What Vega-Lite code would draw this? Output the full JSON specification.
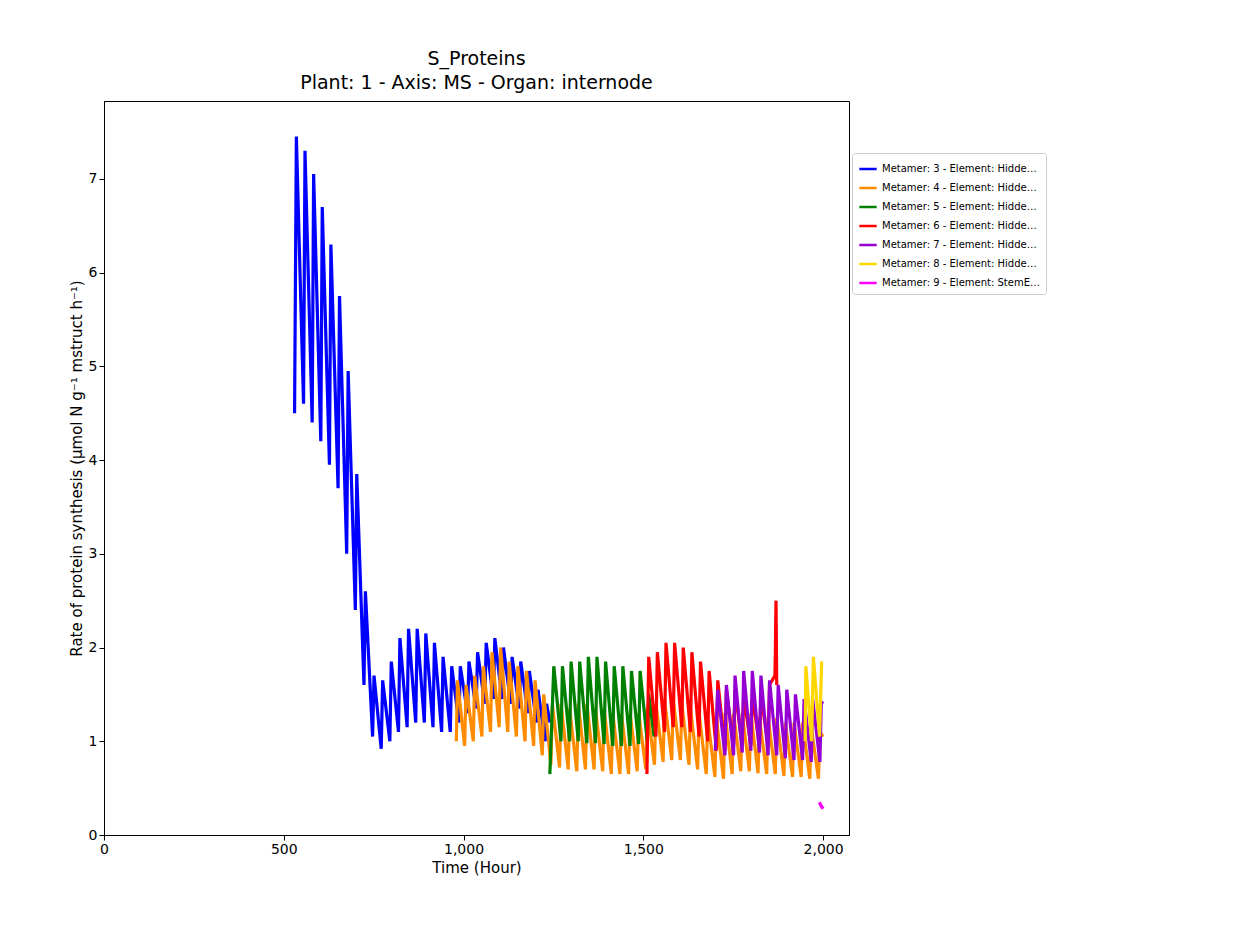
{
  "$schema": "https://vega.github.io/schema/vega-lite/v6.json",
  "width": 745,
  "height": 734,
  "autosize": "none",
  "padding": {"left": 104, "top": 101, "right": 401, "bottom": 108},
  "background": "white",
  "config": {"font": "DejaVu Sans", "view": {"stroke": "black", "strokeWidth": 1}, "axis": {"labelFontSize": 14, "titleFontSize": 15, "titleFontWeight": "normal"}},
  "title": {"text": ["S_Proteins", "Plant: 1 - Axis: MS - Organ: internode"], "fontSize": 19, "fontWeight": "normal", "color": "black", "offset": 8, "lineHeight": 24},
  "data": {"values": [
    {"s":3,"t":530,"v":4.5},{"s":3,"t":535,"v":7.45},{"s":3,"t":555,"v":4.6},{"s":3,"t":559,"v":7.3},{"s":3,"t":579,"v":4.4},{"s":3,"t":583,"v":7.05},{"s":3,"t":603,"v":4.2},{"s":3,"t":607,"v":6.7},{"s":3,"t":627,"v":3.95},{"s":3,"t":631,"v":6.3},{"s":3,"t":651,"v":3.7},{"s":3,"t":655,"v":5.75},{"s":3,"t":675,"v":3.0},{"s":3,"t":679,"v":4.95},{"s":3,"t":699,"v":2.4},{"s":3,"t":703,"v":3.85},{"s":3,"t":723,"v":1.6},{"s":3,"t":727,"v":2.6},{"s":3,"t":747,"v":1.05},{"s":3,"t":751,"v":1.7},{"s":3,"t":771,"v":0.92},{"s":3,"t":775,"v":1.65},{"s":3,"t":795,"v":1.0},{"s":3,"t":799,"v":1.85},{"s":3,"t":819,"v":1.1},{"s":3,"t":823,"v":2.1},{"s":3,"t":843,"v":1.15},{"s":3,"t":847,"v":2.2},{"s":3,"t":867,"v":1.2},{"s":3,"t":871,"v":2.2},{"s":3,"t":891,"v":1.2},{"s":3,"t":895,"v":2.15},{"s":3,"t":915,"v":1.15},{"s":3,"t":919,"v":2.05},{"s":3,"t":939,"v":1.1},{"s":3,"t":943,"v":1.9},{"s":3,"t":963,"v":1.1},{"s":3,"t":967,"v":1.8},{"s":3,"t":987,"v":1.2},{"s":3,"t":991,"v":1.8},{"s":3,"t":1011,"v":1.3},{"s":3,"t":1015,"v":1.85},{"s":3,"t":1035,"v":1.35},{"s":3,"t":1039,"v":1.95},{"s":3,"t":1059,"v":1.4},{"s":3,"t":1063,"v":2.05},{"s":3,"t":1083,"v":1.45},{"s":3,"t":1087,"v":2.1},{"s":3,"t":1107,"v":1.45},{"s":3,"t":1111,"v":2.0},{"s":3,"t":1131,"v":1.4},{"s":3,"t":1135,"v":1.9},{"s":3,"t":1155,"v":1.35},{"s":3,"t":1159,"v":1.85},{"s":3,"t":1179,"v":1.3},{"s":3,"t":1183,"v":1.75},{"s":3,"t":1203,"v":1.2},{"s":3,"t":1207,"v":1.55},{"s":3,"t":1227,"v":1.0},{"s":3,"t":1231,"v":1.4},{"s":3,"t":1240,"v":1.2},
    {"s":4,"t":980,"v":1.0},{"s":4,"t":983,"v":1.65},{"s":4,"t":1003,"v":0.95},{"s":4,"t":1007,"v":1.6},{"s":4,"t":1027,"v":1.0},{"s":4,"t":1031,"v":1.7},{"s":4,"t":1051,"v":1.05},{"s":4,"t":1055,"v":1.8},{"s":4,"t":1075,"v":1.1},{"s":4,"t":1079,"v":1.95},{"s":4,"t":1099,"v":1.15},{"s":4,"t":1103,"v":2.0},{"s":4,"t":1123,"v":1.1},{"s":4,"t":1127,"v":1.85},{"s":4,"t":1147,"v":1.05},{"s":4,"t":1151,"v":1.8},{"s":4,"t":1171,"v":1.0},{"s":4,"t":1175,"v":1.75},{"s":4,"t":1195,"v":0.95},{"s":4,"t":1199,"v":1.65},{"s":4,"t":1219,"v":0.85},{"s":4,"t":1223,"v":1.5},{"s":4,"t":1243,"v":0.75},{"s":4,"t":1247,"v":1.4},{"s":4,"t":1267,"v":0.72},{"s":4,"t":1271,"v":1.4},{"s":4,"t":1291,"v":0.7},{"s":4,"t":1295,"v":1.35},{"s":4,"t":1315,"v":0.68},{"s":4,"t":1319,"v":1.4},{"s":4,"t":1339,"v":0.7},{"s":4,"t":1343,"v":1.4},{"s":4,"t":1363,"v":0.7},{"s":4,"t":1367,"v":1.35},{"s":4,"t":1387,"v":0.68},{"s":4,"t":1391,"v":1.35},{"s":4,"t":1411,"v":0.65},{"s":4,"t":1415,"v":1.3},{"s":4,"t":1435,"v":0.65},{"s":4,"t":1439,"v":1.3},{"s":4,"t":1459,"v":0.65},{"s":4,"t":1463,"v":1.3},{"s":4,"t":1483,"v":0.68},{"s":4,"t":1487,"v":1.3},{"s":4,"t":1507,"v":0.7},{"s":4,"t":1511,"v":1.35},{"s":4,"t":1531,"v":0.75},{"s":4,"t":1535,"v":1.4},{"s":4,"t":1555,"v":0.78},{"s":4,"t":1559,"v":1.45},{"s":4,"t":1579,"v":0.8},{"s":4,"t":1583,"v":1.45},{"s":4,"t":1603,"v":0.8},{"s":4,"t":1607,"v":1.4},{"s":4,"t":1627,"v":0.75},{"s":4,"t":1631,"v":1.35},{"s":4,"t":1651,"v":0.7},{"s":4,"t":1655,"v":1.3},{"s":4,"t":1675,"v":0.65},{"s":4,"t":1679,"v":1.25},{"s":4,"t":1699,"v":0.62},{"s":4,"t":1703,"v":1.25},{"s":4,"t":1723,"v":0.6},{"s":4,"t":1727,"v":1.3},{"s":4,"t":1747,"v":0.65},{"s":4,"t":1751,"v":1.3},{"s":4,"t":1771,"v":0.68},{"s":4,"t":1775,"v":1.3},{"s":4,"t":1795,"v":0.68},{"s":4,"t":1799,"v":1.3},{"s":4,"t":1819,"v":0.66},{"s":4,"t":1823,"v":1.25},{"s":4,"t":1843,"v":0.65},{"s":4,"t":1847,"v":1.25},{"s":4,"t":1867,"v":0.65},{"s":4,"t":1871,"v":1.25},{"s":4,"t":1891,"v":0.63},{"s":4,"t":1895,"v":1.2},{"s":4,"t":1915,"v":0.62},{"s":4,"t":1919,"v":1.2},{"s":4,"t":1939,"v":0.62},{"s":4,"t":1943,"v":1.2},{"s":4,"t":1963,"v":0.6},{"s":4,"t":1967,"v":1.15},{"s":4,"t":1987,"v":0.6},{"s":4,"t":1991,"v":1.1},{"s":4,"t":2000,"v":1.05},
    {"s":5,"t":1240,"v":0.65},{"s":5,"t":1251,"v":1.8},{"s":5,"t":1271,"v":1.0},{"s":5,"t":1275,"v":1.8},{"s":5,"t":1295,"v":1.0},{"s":5,"t":1299,"v":1.85},{"s":5,"t":1319,"v":1.0},{"s":5,"t":1323,"v":1.85},{"s":5,"t":1343,"v":0.98},{"s":5,"t":1347,"v":1.9},{"s":5,"t":1367,"v":0.98},{"s":5,"t":1371,"v":1.9},{"s":5,"t":1391,"v":0.97},{"s":5,"t":1395,"v":1.85},{"s":5,"t":1415,"v":0.95},{"s":5,"t":1419,"v":1.8},{"s":5,"t":1439,"v":0.95},{"s":5,"t":1443,"v":1.8},{"s":5,"t":1463,"v":0.95},{"s":5,"t":1467,"v":1.75},{"s":5,"t":1487,"v":0.97},{"s":5,"t":1491,"v":1.75},{"s":5,"t":1511,"v":1.0},{"s":5,"t":1515,"v":1.5},{"s":5,"t":1530,"v":1.05},
    {"s":6,"t":1510,"v":0.65},{"s":6,"t":1515,"v":1.9},{"s":6,"t":1535,"v":1.05},{"s":6,"t":1539,"v":1.95},{"s":6,"t":1559,"v":1.1},{"s":6,"t":1563,"v":2.05},{"s":6,"t":1583,"v":1.15},{"s":6,"t":1587,"v":2.05},{"s":6,"t":1607,"v":1.15},{"s":6,"t":1611,"v":2.0},{"s":6,"t":1631,"v":1.1},{"s":6,"t":1635,"v":1.95},{"s":6,"t":1655,"v":1.05},{"s":6,"t":1659,"v":1.85},{"s":6,"t":1679,"v":1.0},{"s":6,"t":1683,"v":1.75},{"s":6,"t":1703,"v":0.9},{"s":6,"t":1707,"v":1.65},{"s":6,"t":1727,"v":0.9},{"s":6,"t":1731,"v":1.55},{"s":6,"t":1751,"v":0.95},{"s":6,"t":1755,"v":1.55},{"s":6,"t":1775,"v":0.95},{"s":6,"t":1779,"v":1.5},{"s":6,"t":1799,"v":0.95},{"s":6,"t":1803,"v":1.5},{"s":6,"t":1823,"v":0.95},{"s":6,"t":1827,"v":1.5},{"s":6,"t":1847,"v":0.95},{"s":6,"t":1851,"v":1.6},{"s":6,"t":1866,"v":1.7},{"s":6,"t":1867,"v":1.9},{"s":6,"t":1869,"v":2.5},{"s":6,"t":1871,"v":1.6},
    {"s":7,"t":1700,"v":0.9},{"s":7,"t":1707,"v":1.55},{"s":7,"t":1727,"v":0.85},{"s":7,"t":1731,"v":1.6},{"s":7,"t":1751,"v":0.85},{"s":7,"t":1755,"v":1.7},{"s":7,"t":1775,"v":0.88},{"s":7,"t":1779,"v":1.75},{"s":7,"t":1799,"v":0.9},{"s":7,"t":1803,"v":1.75},{"s":7,"t":1823,"v":0.88},{"s":7,"t":1827,"v":1.7},{"s":7,"t":1847,"v":0.85},{"s":7,"t":1851,"v":1.65},{"s":7,"t":1871,"v":0.85},{"s":7,"t":1875,"v":1.6},{"s":7,"t":1895,"v":0.82},{"s":7,"t":1899,"v":1.55},{"s":7,"t":1919,"v":0.8},{"s":7,"t":1923,"v":1.5},{"s":7,"t":1943,"v":0.8},{"s":7,"t":1947,"v":1.45},{"s":7,"t":1967,"v":0.78},{"s":7,"t":1971,"v":1.45},{"s":7,"t":1991,"v":0.78},{"s":7,"t":1995,"v":1.42},{"s":7,"t":2000,"v":1.4},
    {"s":8,"t":1950,"v":1.0},{"s":8,"t":1952,"v":1.8},{"s":8,"t":1968,"v":1.0},{"s":8,"t":1973,"v":1.9},{"s":8,"t":1990,"v":1.05},{"s":8,"t":1996,"v":1.85},
    {"s":9,"t":1990,"v":0.35},{"s":9,"t":1993,"v":0.32},{"s":9,"t":2000,"v":0.28}
  ]},
  "mark": {"type": "line", "strokeWidth": 3.2, "clip": true},
  "encoding": {
    "x": {"field": "t", "type": "quantitative", "scale": {"domain": [0, 2072], "nice": false, "zero": false},
      "axis": {"title": "Time (Hour)", "values": [0, 500, 1000, 1500, 2000], "grid": false, "labelColor": "black", "titleColor": "black", "domainColor": "black", "tickColor": "black", "labelFlush": false}},
    "y": {"field": "v", "type": "quantitative", "scale": {"domain": [0, 7.83], "nice": false},
      "axis": {"title": "Rate of protein synthesis (µmol N g⁻¹ mstruct h⁻¹)", "values": [0, 1, 2, 3, 4, 5, 6, 7], "grid": false, "labelColor": "black", "titleColor": "black", "domainColor": "black", "tickColor": "black", "labelFlush": false}},
    "color": {"field": "s", "type": "nominal",
      "scale": {"domain": [3, 4, 5, 6, 7, 8, 9], "range": ["#0000ff", "#ff8c00", "#008000", "#ff0000", "#9400d3", "#ffd700", "#ff00ff"]},
      "legend": {"title": null, "orient": "none", "legendX": 748, "legendY": 52, "symbolType": "stroke", "symbolStrokeWidth": 2.5, "symbolSize": 300, "labelFontSize": 10, "rowPadding": 4, "padding": 6, "strokeColor": "#cccccc", "fillColor": "white", "cornerRadius": 3,
        "labelExpr": "'Metamer: ' + datum.label + ' - Element: ' + (datum.label == '9' ? 'StemElement' : 'HiddenElement')"}},
    "order": {"field": "t", "type": "quantitative"}
  }
}
